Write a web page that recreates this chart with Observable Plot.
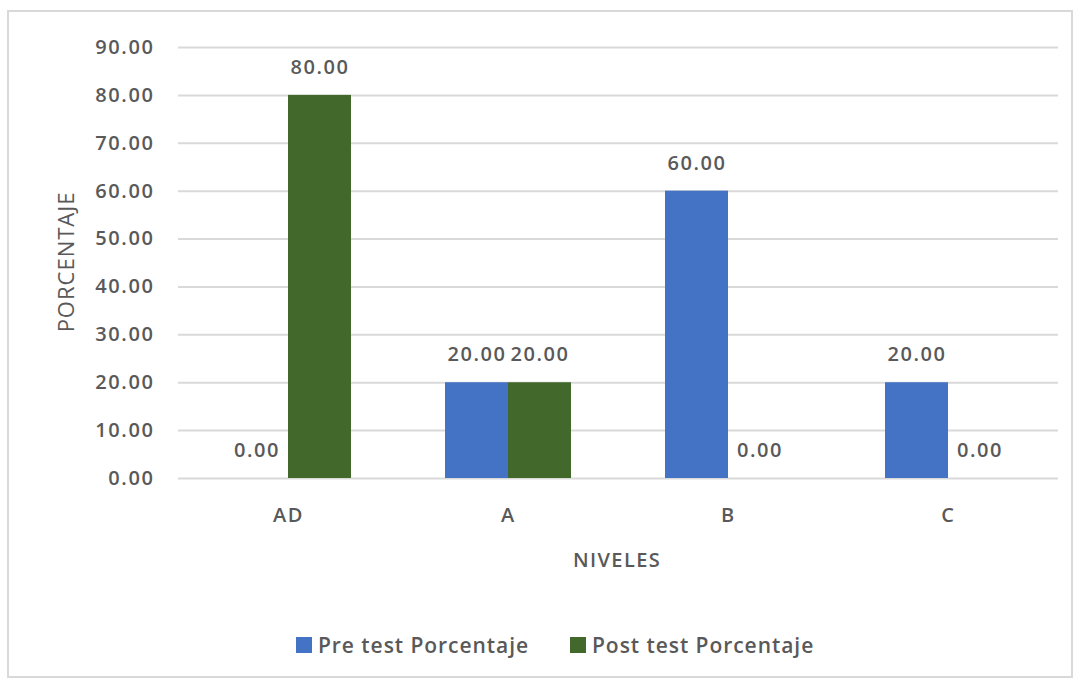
<!DOCTYPE html>
<html>
<head>
<meta charset="utf-8">
<script src="https://cdn.jsdelivr.net/npm/d3@7"></script>
<script src="https://cdn.jsdelivr.net/npm/@observablehq/plot@0.6"></script>
<style>
  html, body { margin: 0; padding: 0; background: #fff; }
  body { width: 1077px; height: 684px; position: relative; overflow: hidden; font-family: "Open Sans", sans-serif; }
  #frame { position: absolute; left: 7px; top: 10px; width: 1066px; height: 668px; border: 2px solid #d9d9d9; box-sizing: border-box; }
  #chart { position: absolute; left: 0; top: 0; }
  #ylabel { position: absolute; left: 65px; top: 262px; transform: translate(-50%, -50%) rotate(-90deg); font-size: 22px; font-weight: 500; letter-spacing: 1px; color: #595959; white-space: nowrap; }
  #xlabel { position: absolute; left: 617px; top: 559px; transform: translate(-50%, -50%); font-size: 20px; font-weight: 600; letter-spacing: 1.4px; color: #595959; white-space: nowrap; }
  #legend { position: absolute; top: 630px; left: 0; width: 1077px; height: 30px; font-size: 21px; font-weight: 600; letter-spacing: 0.95px; color: #595959; }
  .item { position: absolute; top: 0; display: flex; align-items: center; height: 30px; white-space: nowrap; }
  .sw { width: 16px; height: 16px; margin-right: 6px; }
</style>
</head>
<body>
<div id="frame"></div>
<div id="chart"></div>
<div id="ylabel"></div>
<div id="xlabel"></div>
<div id="legend"></div>
<script>
const niveles = ["AD", "A", "B", "C"];
const series = ["Pre test Porcentaje", "Post test Porcentaje"];
const preTest = [0, 20, 60, 20];
const postTest = [80, 20, 0, 0];
const yTicks = [0, 10, 20, 30, 40, 50, 60, 70, 80, 90];
const colors = ["#4472c4", "#43682b"];
const yTitle = "PORCENTAJE";
const xTitle = "NIVELES";

const rows = [];
niveles.forEach((n, i) => {
  rows.push({nivel: n, serie: series[0], valor: preTest[i]});
  rows.push({nivel: n, serie: series[1], valor: postTest[i]});
});

const chart = Plot.plot({
  width: 1077,
  height: 600,
  marginTop: 47,
  marginBottom: 122,
  marginLeft: 178,
  marginRight: 19,
  style: {fontFamily: "'Open Sans', sans-serif", fontSize: "20px", fontWeight: 600, letterSpacing: "1.6px", color: "#595959", background: "transparent"},
  fx: {domain: niveles, padding: 0, label: null, tickSize: 0, tickPadding: 29},
  x: {domain: series, axis: null, paddingInner: 0, paddingOuter: 0.746},
  y: {domain: [0, 90], ticks: yTicks, tickFormat: d => d.toFixed(2), tickSize: 0, tickPadding: 24, label: null},
  color: {domain: series, range: colors},
  marks: [
    Plot.ruleY(yTicks, {stroke: "#d9d9d9", strokeWidth: 2}),
    Plot.barY(rows, {fx: "nivel", x: "serie", y: "valor", fill: "serie"}),
    Plot.text(rows, {fx: "nivel", x: "serie", y: "valor", text: d => d.valor.toFixed(2), dy: -28, fill: "#595959", fontSize: 20, fontWeight: 600})
  ]
});
document.getElementById("chart").appendChild(chart);
document.getElementById("ylabel").textContent = yTitle;
document.getElementById("xlabel").textContent = xTitle;

const legend = document.getElementById("legend");
const lx = [296, 570];
series.forEach((s, i) => {
  const it = document.createElement("div");
  it.className = "item";
  it.style.left = lx[i] + "px";
  it.innerHTML = `<div class="sw" style="background:${colors[i]}"></div><span>${s}</span>`;
  legend.appendChild(it);
});
</script>
</body>
</html>
